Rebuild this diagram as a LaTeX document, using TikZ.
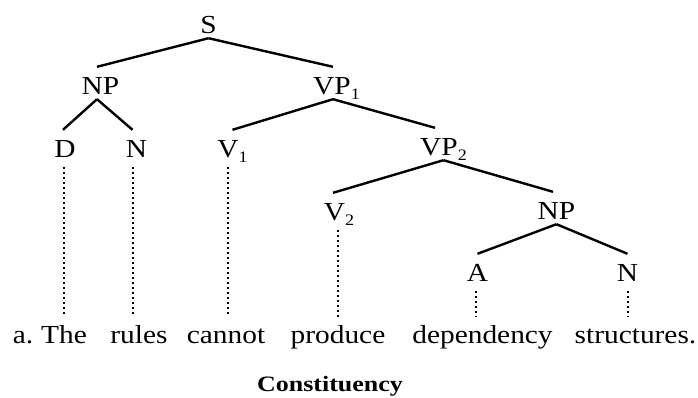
\documentclass[tikz,border=0pt]{standalone}
\usepackage{fontspec}
\setmainfont[FakeStretch=1.13]{Liberation Serif}
\newfontfamily\captionfnt[FakeStretch=1.18]{Liberation Serif}
\newcommand\subsc[1]{\raisebox{-0.2em}{\fontsize{16}{16}\selectfont #1}}
\begin{document}
\begin{tikzpicture}[x=1pt,y=-1pt,
  lbl/.style={font=\fontsize{26}{30}\selectfont, inner xsep=0pt, inner ysep=5pt,
    text height=22pt, text depth=0pt, anchor=base},
  word/.style={font=\fontsize{26}{30}\selectfont, inner sep=0pt, text height=20pt,
    text depth=0pt, anchor=base},
  branch/.style={line width=2.4pt},
  dots/.style={line width=1.8pt, dash pattern=on 1.8pt off 3.2pt, shorten <=5pt, shorten >=6pt}]
\useasboundingbox (0,0) rectangle (698,397);
% labels
\node[lbl] (S)   at (208.5,33) {S};
\node[lbl] (NP)  at (100.5,94) {NP};
\node[lbl] (VP1) at (336.5,94) {VP\subsc{1}};
\node[lbl] (D)   at (65,157) {D};
\node[lbl] (N)   at (136.5,157) {N};
\node[lbl] (V1)  at (232.5,157) {V\subsc{1}};
\node[lbl] (VP2) at (443.5,155) {VP\subsc{2}};
\node[lbl] (V2)  at (339,220) {V\subsc{2}};
\node[lbl] (NP2) at (556.5,219) {NP};
\node[lbl] (A)   at (477.5,281) {A};
\node[lbl] (N2)  at (627.5,281) {N};
% words
\node[word] (wa) at (23,343) {a.};
\node[word] (w1) at (64,343) {The};
\node[word] (w2) at (139,343) {rules};
\node[word] (w3) at (226,343) {cannot};
\node[word] (w4) at (338,343) {produce};
\node[word] (w5) at (482.5,343) {dependency};
\node[word] (w6) at (635.5,343) {structures.};
\node[font=\captionfnt\bfseries\fontsize{22}{26}\selectfont, inner sep=0pt, anchor=base] (cap) at (330,391) {Constituency};
% branches
\draw[branch] (S.south) -- ([xshift=-3.5pt]NP.north);
\draw[branch] (S.south) -- ([xshift=-3.5pt]VP1.north);
\draw[branch] ([xshift=-3.5pt]NP.south) -- ([xshift=-2pt]D.north);
\draw[branch] ([xshift=-3.5pt]NP.south) -- ([xshift=-4pt]N.north);
\draw[branch] ([xshift=-3.5pt]VP1.south) -- (V1.north);
\draw[branch] ([xshift=-3.5pt]VP1.south) -- ([xshift=-8.5pt]VP2.north);
\draw[branch] (VP2.south) -- ([xshift=-6pt]V2.north);
\draw[branch] (VP2.south) -- ([xshift=-3.5pt]NP2.north);
\draw[branch] (NP2.south) -- (A.north);
\draw[branch] (NP2.south) -- (N2.north);
% dotted links
\draw[dots] ([xshift=-1pt]D.south) -- ([xshift=-1pt]D.south |- w1.north);
\draw[dots] ([xshift=-3.5pt]N.south) -- ([xshift=-3.5pt]N.south |- w2.north);
\draw[dots] ([xshift=-4.5pt]V1.south) -- ([xshift=-4.5pt]V1.south |- w3.north);
\draw[dots] ([xshift=-1pt]V2.south) -- ([xshift=-1pt]V2.south |- w4.north);
\draw[dots] ([xshift=-1.5pt]A.south) -- ([xshift=-1.5pt]A.south |- w5.north);
\draw[dots] ([xshift=0.5pt]N2.south) -- ([xshift=0.5pt]N2.south |- w6.north);
\end{tikzpicture}
\end{document}
